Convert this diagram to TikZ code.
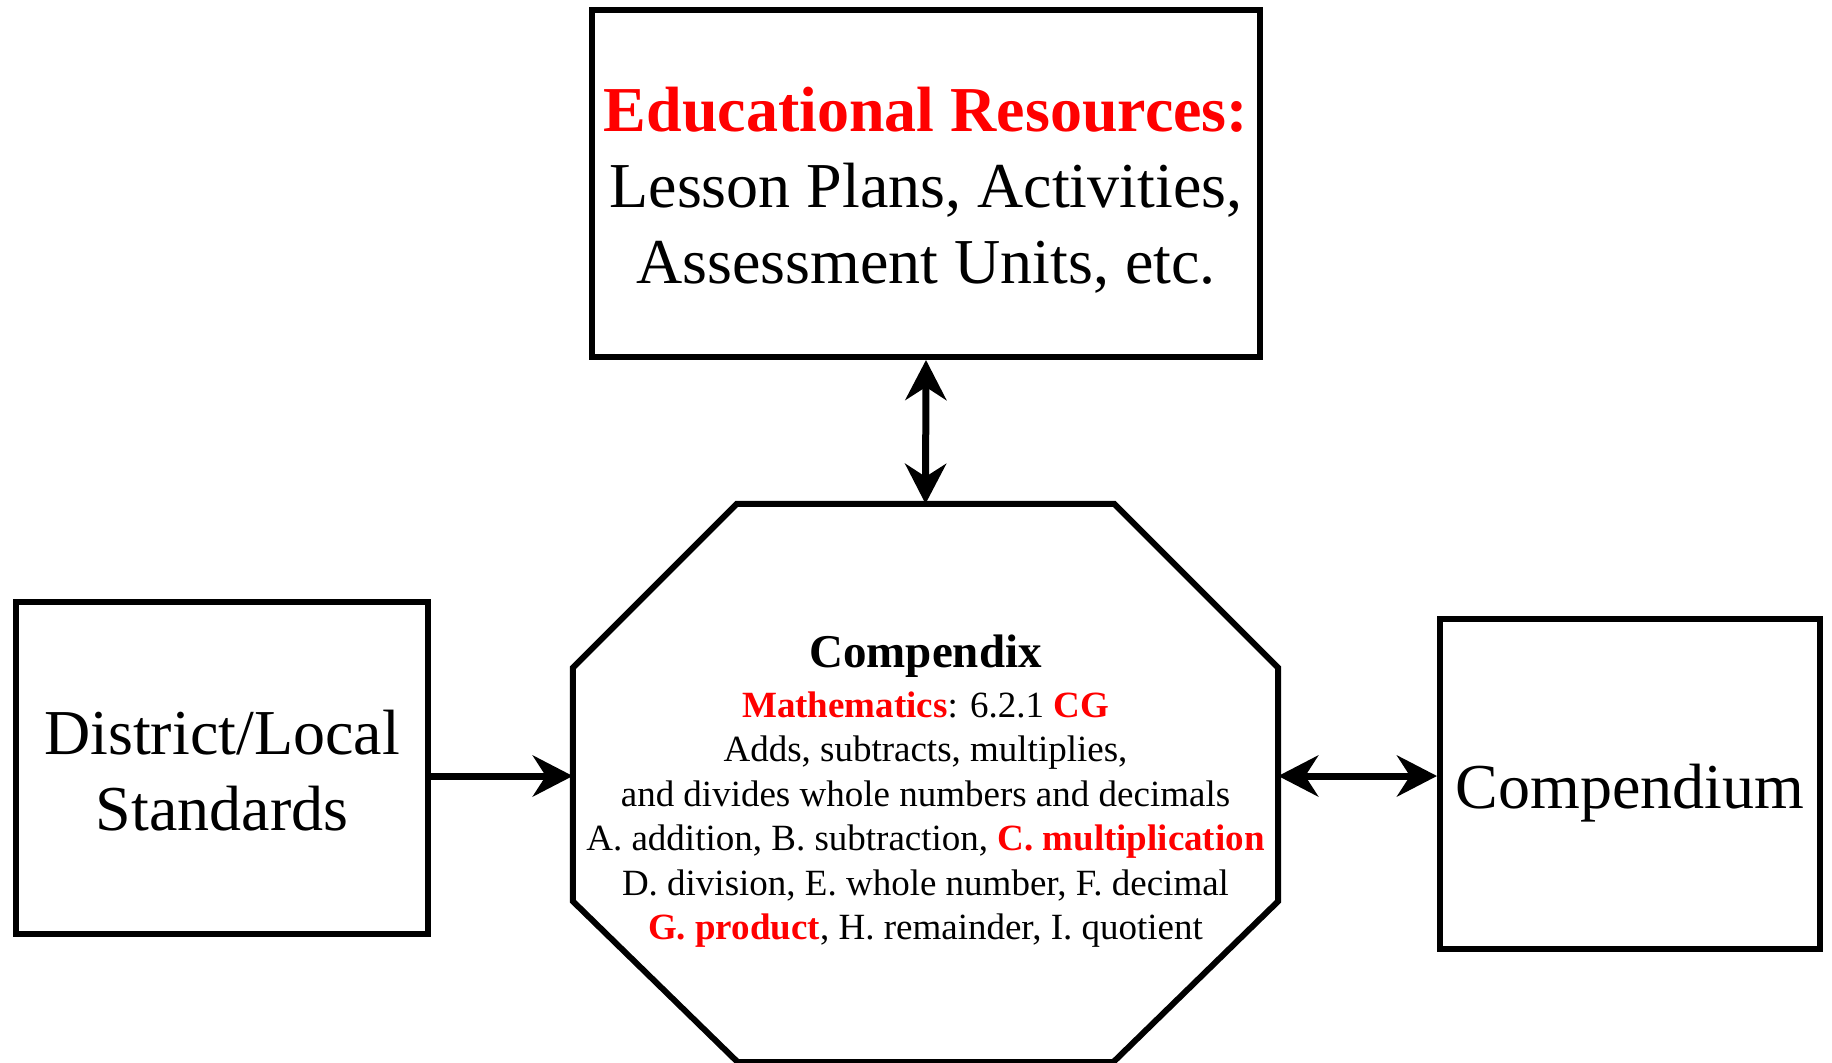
\documentclass[tikz,border=0pt]{standalone}
\usepackage{fontspec}
\setmainfont{Liberation Serif}
\usetikzlibrary{arrows.meta}
\begin{document}
\begin{tikzpicture}[x=1pt,y=-1pt,
  box/.style={draw, line width=6pt, rectangle, inner sep=0pt},
  bigtext/.style={font=\fontsize{64}{76}\selectfont, align=center, inner sep=0pt},
  conn/.style={line width=7pt},
  >={Stealth[length=40pt,width=41pt,inset=13pt]}]
\useasboundingbox (0,0) rectangle (1832,1063);
\fill[white] (0,0) rectangle (1832,1063);
% boxes
\node[box, minimum width=668pt, minimum height=347pt] (top) at (926,183.5) {};
\node[box, minimum width=412pt, minimum height=332pt] (left) at (222,768) {};
\node[box, minimum width=380pt, minimum height=330pt] (right) at (1630,784) {};
% box texts
\node[bigtext] (toptext) at ([yshift=-7pt]top.center)
  {\textcolor{red}{\bfseries Educational Resources:}\\Lesson Plans, Activities,\\Assessment Units, etc.};
\node[bigtext] (lefttext) at ([yshift=-3pt]left.center) {District/Local\\Standards};
\node[bigtext] (righttext) at ([yshift=-9pt]right.center) {Compendium};
% octagon
\node[minimum width=705pt, minimum height=558pt, inner sep=0pt] (oct) at (925.5,783) {};
\draw[line width=6pt, line join=miter]
  ([xshift=164pt]oct.north west) -- ([xshift=-164pt]oct.north east)
  -- ([yshift=-164pt]oct.north east) -- ([yshift=161pt]oct.south east)
  -- ([xshift=-165pt]oct.south east) -- ([xshift=165pt]oct.south west)
  -- ([yshift=161pt]oct.south west) -- ([yshift=-164pt]oct.north west) -- cycle;
\node[font=\fontsize{37}{44.4}\selectfont, align=center, inner sep=0pt] (octtext) at ([yshift=-8pt]oct.center)
  {{\fontsize{47}{50}\selectfont\bfseries Compendix}\\[6pt]
   \textcolor{red}{\bfseries Mathematics}: 6.2.1 \textcolor{red}{\bfseries CG}\\
   Adds, subtracts, multiplies,\\
   and divides whole numbers and decimals\\
   A. addition, B. subtraction, \textcolor{red}{\bfseries C. multiplication}\\
   D. division, E. whole number, F. decimal\\
   \textcolor{red}{\bfseries G. product}, H. remainder, I. quotient};
% connectors
\draw[conn, <->] (top.south) -- (oct.north);
\coordinate (la) at ([yshift=-8pt]left.east);
\draw[conn, ->] (la) -- (la -| oct.west);
\coordinate (ra) at ([yshift=8pt]right.west);
\draw[conn, <->] (ra -| oct.east) -- (ra);
\end{tikzpicture}
\end{document}
